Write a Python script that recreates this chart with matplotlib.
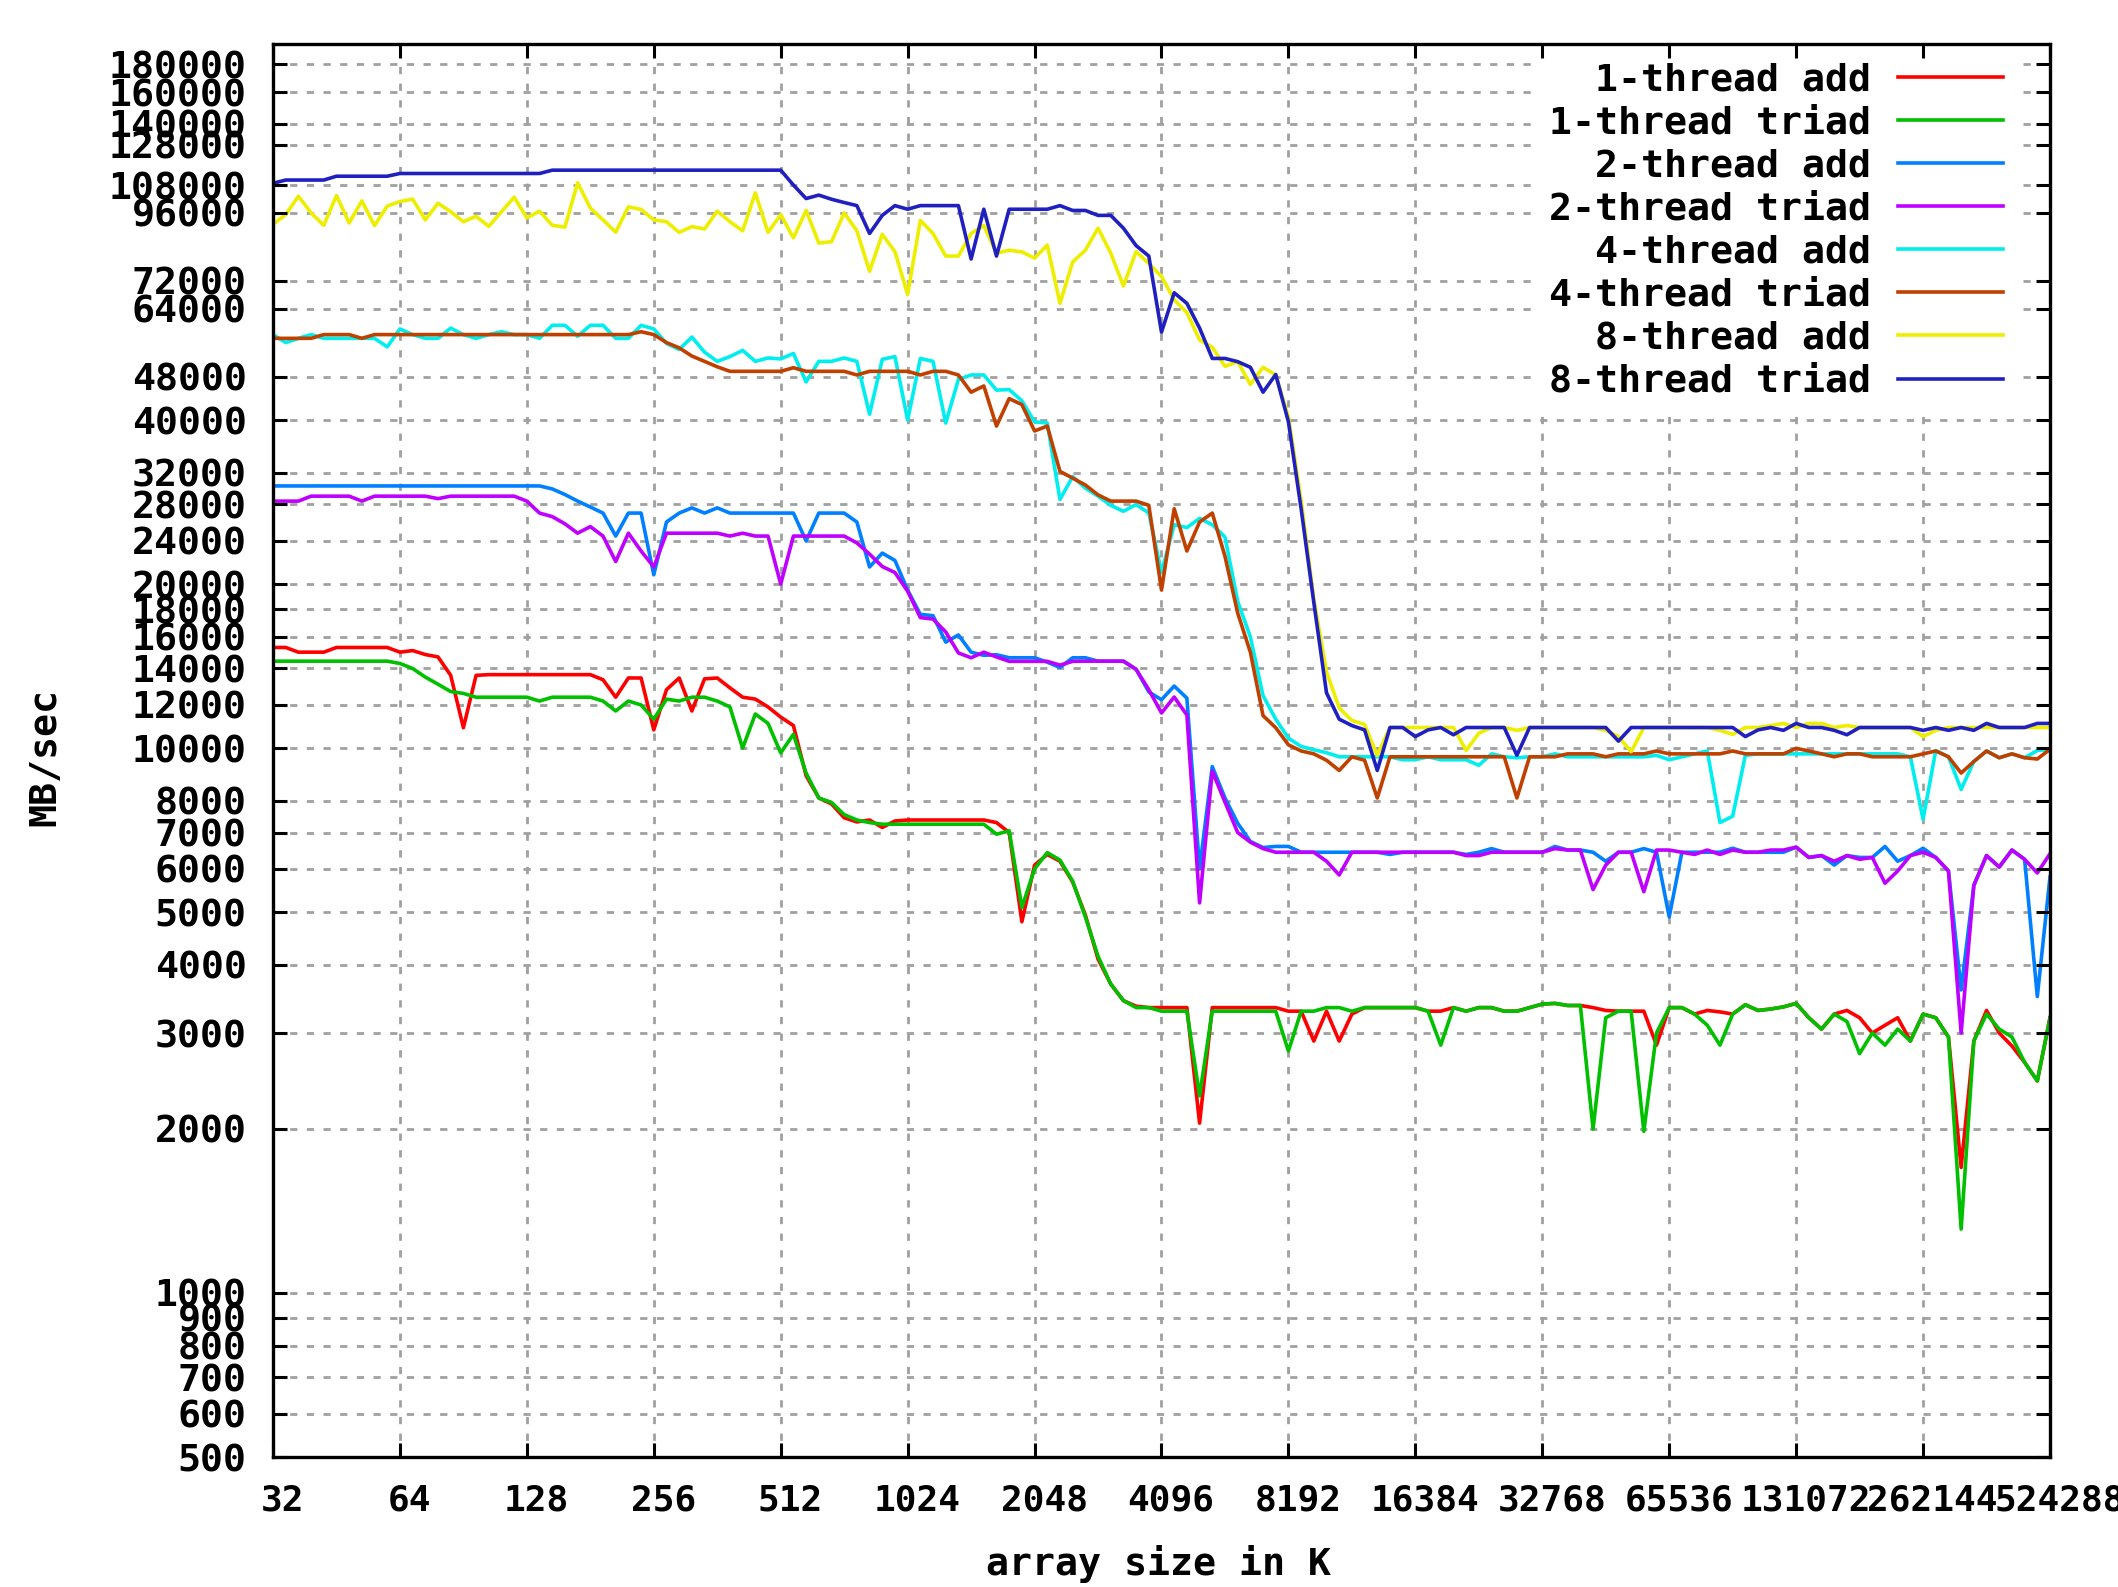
import matplotlib

matplotlib.use("Agg")
import matplotlib.pyplot as plt  # noqa: E402
from matplotlib.ticker import FixedLocator, FixedFormatter, NullLocator  # noqa: E402
from matplotlib.transforms import ScaledTranslation  # noqa: E402

plt.rcParams["font.family"] = ["DejaVu Sans Mono"]
plt.rcParams["font.weight"] = "bold"

# array sizes in K: ten samples per doubling, 32K .. 512M
sizes_k = [32 * 2 ** (i / 10) for i in range(141)]

# bandwidth in MB/sec, one row per doubling of the array size
add_1t = [
    15300, 15300, 15000, 15000, 15000, 15300, 15300, 15300, 15300, 15300,
    15000, 15100, 14850, 14700, 13600, 10900, 13600, 13640, 13640, 13640,
    13640, 13640, 13640, 13640, 13640, 13640, 13350, 12400, 13450, 13450,
    10800, 12800, 13450, 11700, 13400, 13450, 12900, 12400, 12300, 11900,
    11400, 11000, 8900, 8100, 7900, 7450, 7320, 7380, 7150, 7350,
    7380, 7380, 7380, 7380, 7380, 7380, 7380, 7300, 7000, 4800,
    6100, 6380, 6200, 5680, 4940, 4100, 3690, 3440, 3360, 3340,
    3340, 3340, 3340, 2050, 3340, 3340, 3340, 3340, 3340, 3340,
    3290, 3290, 2900, 3290, 2900, 3250, 3340, 3340, 3340, 3340,
    3340, 3290, 3290, 3340, 3290, 3340, 3340, 3290, 3290, 3340,
    3390, 3400, 3370, 3370, 3340, 3300, 3290, 3290, 3290, 2850,
    3340, 3340, 3250, 3300, 3280, 3250, 3380, 3300, 3320, 3350,
    3400, 3200, 3050, 3250, 3300, 3200, 3000, 3100, 3200, 2900,
    3250, 3200, 2950, 1700, 2900, 3300, 3000, 2840, 2650, 2450, 3200,
]
triad_1t = [
    14440, 14440, 14440, 14440, 14440, 14440, 14440, 14440, 14440, 14440,
    14300, 14000, 13500, 13100, 12700, 12600, 12400, 12400, 12400, 12400,
    12400, 12200, 12400, 12400, 12400, 12400, 12200, 11700, 12200, 12000,
    11300, 12300, 12200, 12400, 12400, 12200, 11900, 10000, 11550, 11100,
    9800, 10600, 9000, 8100, 7950, 7550, 7380, 7300, 7250, 7250,
    7250, 7250, 7250, 7250, 7250, 7250, 7250, 6950, 7050, 5100,
    6000, 6430, 6230, 5700, 4900, 4150, 3690, 3440, 3340, 3340,
    3290, 3290, 3290, 2300, 3290, 3290, 3290, 3290, 3290, 3290,
    2780, 3290, 3290, 3340, 3340, 3290, 3340, 3340, 3340, 3340,
    3340, 3290, 2850, 3340, 3290, 3340, 3340, 3290, 3290, 3340,
    3390, 3400, 3370, 3370, 2000, 3200, 3290, 3290, 1980, 3000,
    3340, 3340, 3250, 3100, 2850, 3250, 3380, 3300, 3320, 3350,
    3400, 3200, 3050, 3250, 3150, 2750, 3000, 2850, 3050, 2900,
    3250, 3200, 2950, 1310, 2900, 3250, 3050, 2950, 2650, 2450, 3200,
]
add_2t = [
    30280, 30280, 30280, 30280, 30280, 30280, 30280, 30280, 30280, 30280,
    30280, 30280, 30280, 30280, 30280, 30280, 30280, 30280, 30280, 30280,
    30280, 30280, 29900, 29200, 28400, 27700, 27000, 24500, 27000, 27000,
    20800, 26000, 27000, 27600, 27000, 27600, 27000, 27000, 27000, 27000,
    27000, 27000, 24000, 27000, 27000, 27000, 26000, 21500, 22800, 22100,
    19500, 17600, 17500, 15650, 16130, 15000, 14800, 14840, 14650, 14650,
    14650, 14380, 14060, 14650, 14650, 14440, 14440, 14440, 13950, 12680,
    12270, 13000, 12350, 6000, 9250, 8100, 7280, 6740, 6570, 6600,
    6600, 6440, 6440, 6440, 6440, 6440, 6440, 6440, 6380, 6440,
    6440, 6440, 6440, 6440, 6380, 6440, 6540, 6440, 6440, 6440,
    6440, 6600, 6500, 6500, 6440, 6200, 6440, 6440, 6540, 6440,
    4900, 6440, 6440, 6440, 6440, 6550, 6440, 6440, 6440, 6440,
    6580, 6300, 6350, 6100, 6350, 6300, 6300, 6600, 6200, 6350,
    6550, 6300, 5950, 3600, 5600, 6350, 6050, 6500, 6250, 3500, 5800,
]
triad_2t = [
    28400, 28400, 28400, 29000, 29000, 29000, 29000, 28400, 29000, 29000,
    29000, 29000, 29000, 28700, 29000, 29000, 29000, 29000, 29000, 29000,
    28400, 27000, 26600, 25800, 24800, 25500, 24500, 22000, 24800, 23000,
    21500, 24800, 24800, 24800, 24800, 24800, 24500, 24800, 24500, 24500,
    20000, 24500, 24500, 24500, 24500, 24500, 23800, 22700, 21540, 21000,
    19400, 17360, 17250, 16340, 14950, 14650, 15000, 14700, 14430, 14430,
    14430, 14430, 14200, 14430, 14440, 14440, 14440, 14440, 13950, 12800,
    11600, 12410, 11500, 5200, 9070, 7960, 7000, 6720, 6540, 6440,
    6440, 6440, 6440, 6200, 5850, 6440, 6440, 6440, 6440, 6440,
    6440, 6440, 6440, 6440, 6350, 6350, 6440, 6440, 6440, 6440,
    6440, 6540, 6500, 6500, 5500, 6100, 6440, 6440, 5450, 6500,
    6500, 6440, 6380, 6500, 6380, 6500, 6440, 6440, 6500, 6500,
    6580, 6300, 6350, 6200, 6350, 6250, 6300, 5650, 5950, 6350,
    6440, 6300, 5950, 3000, 5600, 6350, 6050, 6500, 6250, 5900, 6400,
]
add_4t = [
    57400, 55500, 56500, 57400, 56500, 56500, 56500, 56500, 56500, 54500,
    58800, 57400, 56500, 56500, 59000, 57400, 56500, 57400, 58100, 57400,
    57400, 56500, 59700, 59700, 57000, 59700, 59700, 56500, 56500, 59700,
    58800, 55300, 53900, 56800, 53300, 51260, 52300, 53700, 51260, 52000,
    51800, 53000, 47000, 51260, 51260, 52000, 51260, 41000, 51700, 52300,
    40000, 51900, 51260, 39500, 47500, 48400, 48400, 45400, 45500, 43400,
    39700, 39500, 28600, 31500, 30000, 29000, 27900, 27200, 28000, 27000,
    21000, 25700, 25400, 26400, 25700, 24400, 18600, 16000, 12480, 11300,
    10430, 10070, 9930, 9810, 9640, 9640, 9640, 9640, 9640, 9520,
    9520, 9640, 9520, 9520, 9520, 9300, 9760, 9640, 9600, 9640,
    9640, 9760, 9640, 9640, 9640, 9640, 9640, 9640, 9640, 9700,
    9520, 9640, 9760, 9880, 7300, 7500, 9700, 9760, 9760, 9760,
    9760, 9760, 9760, 9760, 9760, 9760, 9760, 9760, 9760, 9640,
    7400, 9900, 9640, 8400, 9450, 9880, 9600, 9760, 9600, 9900, 9950,
]
triad_4t = [
    56500, 56500, 56500, 56500, 57400, 57400, 57400, 56500, 57400, 57400,
    57400, 57400, 57400, 57400, 57400, 57400, 57400, 57400, 57400, 57400,
    57400, 57400, 57400, 57400, 57400, 57400, 57400, 57400, 57400, 58100,
    57400, 55500, 54270, 52430, 51260, 50100, 49150, 49150, 49150, 49150,
    49150, 49900, 49150, 49150, 49150, 49150, 48400, 49150, 49150, 49150,
    49150, 48400, 49150, 49150, 48400, 45000, 46200, 39000, 43800, 42700,
    38200, 39000, 32200, 31300, 30400, 29160, 28400, 28400, 28400, 27900,
    19500, 27500, 23000, 26000, 27000, 22500, 17700, 15000, 11470, 10900,
    10140, 9880, 9760, 9500, 9100, 9640, 9500, 8100, 9640, 9640,
    9640, 9640, 9640, 9640, 9640, 9640, 9640, 9640, 8100, 9640,
    9640, 9640, 9760, 9760, 9760, 9640, 9760, 9760, 9760, 9880,
    9760, 9760, 9760, 9760, 9760, 9880, 9760, 9760, 9760, 9760,
    9990, 9880, 9760, 9640, 9760, 9760, 9640, 9640, 9640, 9640,
    9760, 9880, 9640, 9000, 9450, 9880, 9600, 9760, 9600, 9550, 9950,
]
add_8t = [
    91500, 95300, 103000, 96000, 91100, 103300, 92000, 101000, 91000, 98800,
    100700, 101800, 93200, 100000, 96500, 92500, 94600, 90700, 96500, 102600,
    94000, 96700, 91100, 90400, 109000, 98000, 93200, 88500, 98500, 97400,
    93200, 92500, 88400, 90600, 89700, 96700, 92500, 89000, 104500, 88400,
    95300, 86400, 97000, 84500, 85000, 96000, 89000, 75000, 87700, 81500,
    68000, 93000, 88000, 80000, 80000, 88000, 91000, 81000, 82000, 81400,
    79300, 83800, 65500, 78000, 82000, 90000, 81000, 70500, 81500, 77500,
    73400, 66500, 63000, 56100, 54400, 50200, 51200, 46500, 50000, 48400,
    40500, 28500, 18800, 13800, 11850, 11240, 11050, 9700, 10910, 10910,
    10910, 10910, 10910, 10910, 9900, 10650, 10910, 10910, 10780, 10910,
    10910, 10910, 10910, 10910, 10910, 10780, 10500, 9850, 10910, 10910,
    10910, 10910, 10910, 10910, 10780, 10600, 10910, 10910, 11000, 11100,
    10910, 11100, 11100, 10910, 11000, 10910, 10910, 10910, 10910, 10910,
    10500, 10780, 10910, 10910, 10910, 10910, 10910, 10910, 10910, 10910, 10910,
]
triad_8t = [
    108800, 110300, 110300, 110300, 110300, 112100, 112100, 112100, 112100, 112100,
    113400, 113400, 113400, 113400, 113400, 113400, 113400, 113400, 113400, 113400,
    113400, 113400, 115000, 115000, 115000, 115000, 115000, 115000, 115000, 115000,
    115000, 115000, 115000, 115000, 115000, 115000, 115000, 115000, 115000, 115000,
    115000, 108000, 102000, 103500, 101700, 100300, 99000, 88000, 95000, 99000,
    97500, 99000, 99000, 99000, 99000, 79000, 97500, 80000, 97500, 97500,
    97500, 97500, 99000, 97000, 97000, 95000, 95000, 90000, 83600, 80000,
    58000, 68500, 65500, 59000, 51900, 51900, 51200, 50000, 45000, 48500,
    39700, 27500, 18500, 12630, 11300, 11000, 10800, 9100, 10910, 10910,
    10500, 10800, 10910, 10580, 10910, 10910, 10910, 10910, 9700, 10910,
    10910, 10910, 10910, 10910, 10910, 10910, 10300, 10910, 10910, 10910,
    10910, 10910, 10910, 10910, 10910, 10910, 10500, 10800, 10910, 10780,
    11100, 10910, 10910, 10780, 10580, 10910, 10910, 10910, 10910, 10910,
    10780, 10910, 10780, 10910, 10780, 11100, 10910, 10910, 10910, 11100, 11100,
]

series = [
    ("1-thread add", add_1t, "#ff0000"),
    ("1-thread triad", triad_1t, "#00c000"),
    ("2-thread add", add_2t, "#0080ff"),
    ("2-thread triad", triad_2t, "#c000ff"),
    ("4-thread add", add_4t, "#00eeee"),
    ("4-thread triad", triad_4t, "#c04000"),
    ("8-thread add", add_8t, "#eeee00"),
    ("8-thread triad", triad_8t, "#2020c0"),
]

x_ticks = [32, 64, 128, 256, 512, 1024, 2048, 4096, 8192, 16384, 32768,
           65536, 131072, 262144, 524288]
y_ticks = [500, 600, 700, 800, 900, 1000, 2000, 3000, 4000, 5000, 6000, 7000,
           8000, 10000, 12000, 14000, 16000, 18000, 20000, 24000, 28000, 32000,
           40000, 48000, 64000, 72000, 96000, 108000, 128000, 140000, 160000,
           180000]

W, H = 2118, 1587
FS = 27.5
fig = plt.figure(figsize=(W / 100, H / 100), dpi=100)
ax = fig.add_axes([273 / W, 1 - 1457 / H, (2050 - 273) / W, (1457 - 44) / H])
ax.set_xscale("log", base=2)
ax.set_yscale("log")
ax.set_xlim(32, 524288)
ax.set_ylim(500, 196000)

grid_style = dict(color="#a0a0a0", lw=2.0, ls=(0, (2.6, 3.4)), zorder=1)
for xv in x_ticks[1:-1]:
    ax.axvline(xv, **grid_style)
for yv in y_ticks[1:]:
    ax.axhline(yv, **grid_style)

for label, values, color in series:
    assert len(values) == len(sizes_k), label
    ax.plot(sizes_k, values, color=color, lw=2.6, label=label, zorder=2)

ax.xaxis.set_major_locator(FixedLocator(x_ticks))
ax.xaxis.set_major_formatter(FixedFormatter([str(v) for v in x_ticks]))
ax.xaxis.set_minor_locator(NullLocator())
ax.yaxis.set_major_locator(FixedLocator(y_ticks))
ax.yaxis.set_major_formatter(FixedFormatter([str(v) for v in y_ticks]))
ax.yaxis.set_minor_locator(NullLocator())
ax.tick_params(which="major", direction="in", length=10, width=2.2,
               top=True, right=True, colors="black")
ax.tick_params(axis="x", pad=19, labelsize=26)
ax.tick_params(axis="y", pad=19, labelsize=FS)
for sp in ax.spines.values():
    sp.set_linewidth(2.4)
ax.set_axisbelow(False)

# gnuplot sets its x labels a little right of the tick
shift = ScaledTranslation(9.5 / 100, 0, fig.dpi_scale_trans)
for t in ax.get_xticklabels():
    t.set_transform(t.get_transform() + shift)

leg = ax.legend(loc="upper right", bbox_to_anchor=(2014 / W, 1 - 51 / H),
                bbox_transform=fig.transFigure, borderaxespad=0,
                markerfirst=False, frameon=True, fancybox=False, framealpha=1,
                edgecolor="none", facecolor="white", fontsize=FS,
                handlelength=2.75, handletextpad=0.7, labelspacing=0.185,
                borderpad=0.3)
leg.set_zorder(1.8)

fig.text(45 / W, 1 - 757 / H, "MB/sec", rotation=90, ha="center", va="center",
         fontsize=FS)
fig.text(1159 / W, 1 - 1564 / H, "array size in K", ha="center", va="center",
         fontsize=FS)

fig.savefig("out.png", dpi=100, facecolor="white")
